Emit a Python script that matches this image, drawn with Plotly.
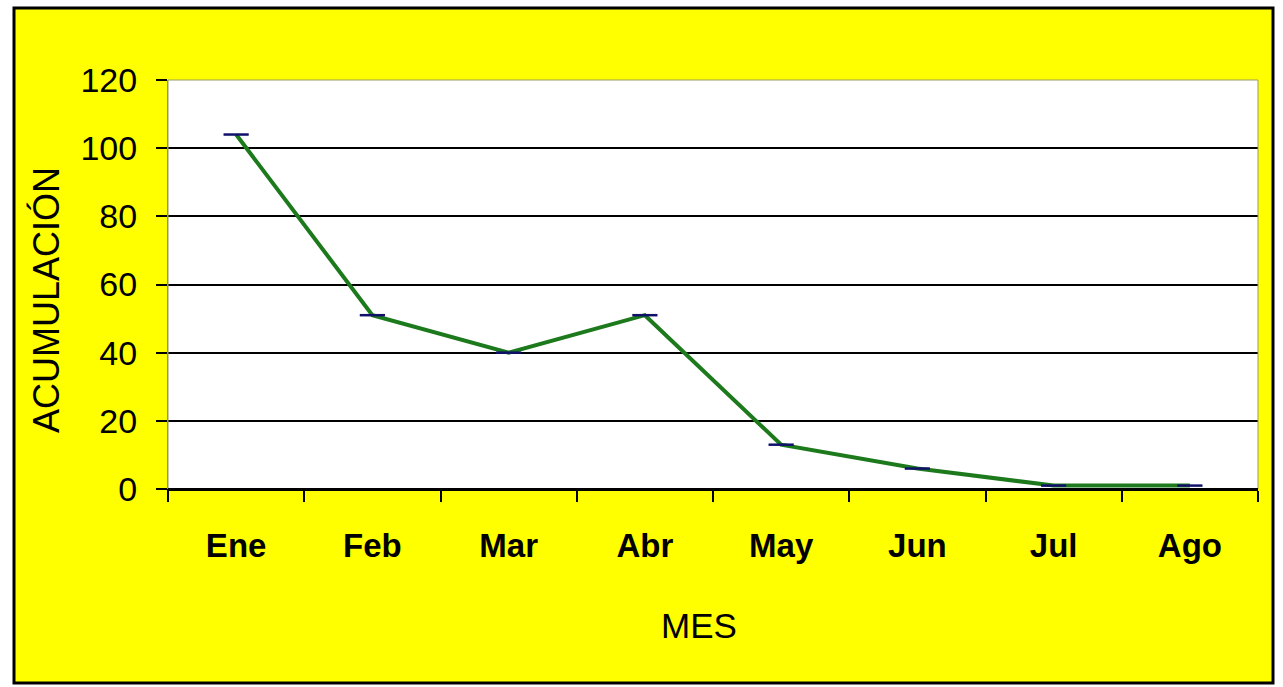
import plotly.graph_objects as go

months = ["Ene", "Feb", "Mar", "Abr", "May", "Jun", "Jul", "Ago"]
acumulacion = [104, 51, 40, 51, 13, 6, 1, 1]
y_ticks = [0, 20, 40, 60, 80, 100, 120]

W, H = 1283, 687
L, R, T, B = 168, 25, 80, 198
pw, ph = W - L - R, H - T - B

def px(x):
    return (x - L) / pw

def py(y):
    return 1 - (y - T) / ph

FONT = "Liberation Sans, Arial, sans-serif"

fig = go.Figure()
fig.add_trace(go.Scatter(
    x=months, y=acumulacion, mode="lines+markers",
    line=dict(color="#1c7a1c", width=4),
    marker=dict(symbol="line-ew", size=18, line=dict(color="#10106a", width=2.5), color="#10106a"),
    showlegend=False, hoverinfo="skip", cliponaxis=False,
))

fig.update_layout(
    width=W, height=H,
    margin=dict(l=L, r=R, t=T, b=B),
    paper_bgcolor="white", plot_bgcolor="white",
    font=dict(family=FONT, color="black"),
    xaxis=dict(
        type="category", categoryorder="array", categoryarray=months,
        range=[-0.5, len(months) - 0.5],
        tickson="boundaries", ticks="outside", ticklen=11, tickwidth=2, tickcolor="black",
        showgrid=False, showline=True, linecolor="black", linewidth=2,
        tickfont=dict(size=33, family=FONT, weight="bold"),
        ticklabelstandoff=26, zeroline=False,
    ),
    yaxis=dict(
        range=[0, 120], tickvals=y_ticks, ticks="outside", ticklen=11, tickwidth=1.5,
        tickcolor="black", showgrid=True, gridcolor="black", gridwidth=1.5,
        showline=True, linecolor="#8a8a5a", linewidth=1, zeroline=False,
        tickfont=dict(size=34), ticklabelstandoff=12,
    ),
    shapes=[
        dict(type="rect", xref="paper", yref="paper", layer="below",
             x0=px(14), x1=px(1273), y0=py(683), y1=py(8),
             fillcolor="#ffff00", line=dict(color="black", width=3)),
        dict(type="rect", xref="paper", yref="paper", layer="below",
             x0=0, x1=1, y0=0, y1=1, fillcolor="white", line=dict(width=0)),
        dict(type="rect", xref="paper", yref="paper", layer="above",
             x0=0, x1=1, y0=0, y1=1, line=dict(color="#9a9a60", width=1)),
        dict(type="line", xref="paper", yref="paper", layer="above",
             x0=0, x1=1, y0=0, y1=0, line=dict(color="black", width=2)),
    ],
    annotations=[
        dict(text="MES", xref="paper", yref="paper", x=px(699), y=py(625),
             showarrow=False, font=dict(size=35), xanchor="center", yanchor="middle"),
        dict(text="ACUMULACIÓN", xref="paper", yref="paper", x=px(46), y=py(300),
             showarrow=False, font=dict(size=36), textangle=-90,
             xanchor="center", yanchor="middle"),
    ],
)

fig.write_html("out.html", config={"displayModeBar": False},
               post_script="document.body.style.margin='0';")
